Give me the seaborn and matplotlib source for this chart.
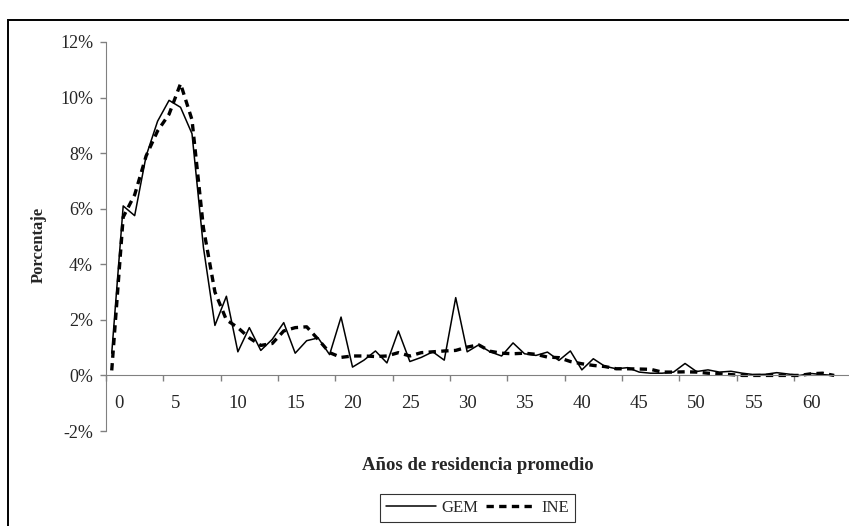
import matplotlib
matplotlib.use('Agg')
import matplotlib.pyplot as plt
import seaborn as sns
import pandas as pd
from matplotlib.ticker import PercentFormatter
from matplotlib.patches import Rectangle

# años de residencia (categorias 0..63)
anios = list(range(0, 64))

# porcentaje GEM
gem = [0.8, 6.1, 5.75, 7.9, 9.15, 9.9, 9.65, 8.7, 4.6, 1.8,
       2.85, 0.85, 1.72, 0.9, 1.3, 1.9, 0.8, 1.25, 1.35, 0.75,
       2.1, 0.3, 0.55, 0.88, 0.45, 1.6, 0.5, 0.65, 0.85, 0.55,
       2.8, 0.85, 1.1, 0.85, 0.7, 1.17, 0.78, 0.72, 0.84, 0.54,
       0.88, 0.2, 0.6, 0.33, 0.24, 0.28, 0.12, 0.08, 0.08, 0.12,
       0.43, 0.14, 0.2, 0.12, 0.15, 0.08, 0.03, 0.04, 0.1, 0.05,
       0.0, 0.07, 0.03, 0.0]

# porcentaje INE
ine = [0.18, 5.7, 6.5, 7.9, 8.8, 9.4, 10.5, 9.2, 5.3, 3.0,
       2.0, 1.72, 1.35, 1.08, 1.15, 1.6, 1.72, 1.75, 1.3, 0.82,
       0.65, 0.7, 0.7, 0.68, 0.7, 0.82, 0.7, 0.82, 0.85, 0.88,
       0.9, 1.02, 1.1, 0.87, 0.8, 0.78, 0.8, 0.76, 0.66, 0.64,
       0.5, 0.42, 0.36, 0.32, 0.24, 0.24, 0.23, 0.22, 0.12, 0.12,
       0.13, 0.12, 0.08, 0.06, 0.03, 0.0, 0.0, 0.0, 0.0, 0.0,
       0.0, 0.06, 0.08, 0.0]

etiquetas_x = list(range(0, 61, 5))
ticks_y = list(range(-2, 13, 2))

df = pd.DataFrame({'anio': anios, 'GEM': gem, 'INE': ine})

sns.set_style('white')
plt.rcParams['font.family'] = ['Liberation Serif', 'DejaVu Serif']
plt.rcParams['axes.unicode_minus'] = False

fig = plt.figure(figsize=(8.49, 5.26), dpi=100)
ax = fig.add_axes([106 / 849, 95 / 526, 745.3 / 849, 389 / 526])

sns.lineplot(data=df, x='anio', y='GEM', ax=ax, color='black', lw=1.1, label='GEM')
sns.lineplot(data=df, x='anio', y='INE', ax=ax, color='black', lw=2.4,
             linestyle=(0, (2.2, 1.6)), label='INE')

ax.set_xlim(-0.5, 64.5)
ax.set_ylim(-2, 12)

gris = '#808080'
for s in ['top', 'right']:
    ax.spines[s].set_visible(False)
ax.spines['left'].set_color(gris)
ax.spines['bottom'].set_color(gris)
ax.spines['bottom'].set_position(('data', 0))

# eje y
ax.set_yticks(ticks_y)
ax.yaxis.set_major_formatter(PercentFormatter(decimals=0))
ax.tick_params(axis='y', direction='out', length=4.3, width=1, color=gris,
               labelsize=13, pad=5, left=True)

# eje x: marcas entre categorias, etiquetas cada 5
ax.set_xticks([k - 0.5 for k in etiquetas_x] + [64.5])
ax.set_xticks([k + 0.2 for k in etiquetas_x], labels=[str(k) for k in etiquetas_x], minor=True)
ax.tick_params(axis='x', which='major', direction='out', length=4.3, width=1,
               color=gris, labelbottom=False, bottom=True)
ax.tick_params(axis='x', which='minor', length=0, labelsize=13.5, pad=14)
for t in ax.get_xticklabels(minor=True):
    t.set_ha('left')

ax.set_xlabel('Años de residencia promedio', fontsize=13.5, fontweight='bold')
ax.xaxis.set_label_coords(478 / 849, 1 - 466 / 526, transform=fig.transFigure)
ax.xaxis.label.set_va('center')
ax.set_ylabel('Porcentaje', fontsize=12, fontweight='bold')
ax.yaxis.set_label_coords(38.5 / 849, 1 - 245 / 526, transform=fig.transFigure)
ax.yaxis.label.set_va('center')

# leyenda abajo
sns.move_legend(ax, 'upper center', bbox_to_anchor=(477.5 / 849, 1 - 494 / 526),
                bbox_transform=fig.transFigure, ncol=2, frameon=True, fancybox=False,
                edgecolor='black', fontsize=12, handlelength=3.0, columnspacing=0.5,
                handletextpad=0.3, borderpad=0.35, borderaxespad=0, title=None)
ax.get_legend().get_frame().set_linewidth(0.8)

# borde del area del grafico
fig.patches.append(Rectangle((8 / 849, -0.2), 1.2, 0.2 + 1 - 20 / 526,
                             transform=fig.transFigure, fill=False,
                             edgecolor='black', lw=1.4, clip_on=False))

fig.savefig('out.png', dpi=100)
